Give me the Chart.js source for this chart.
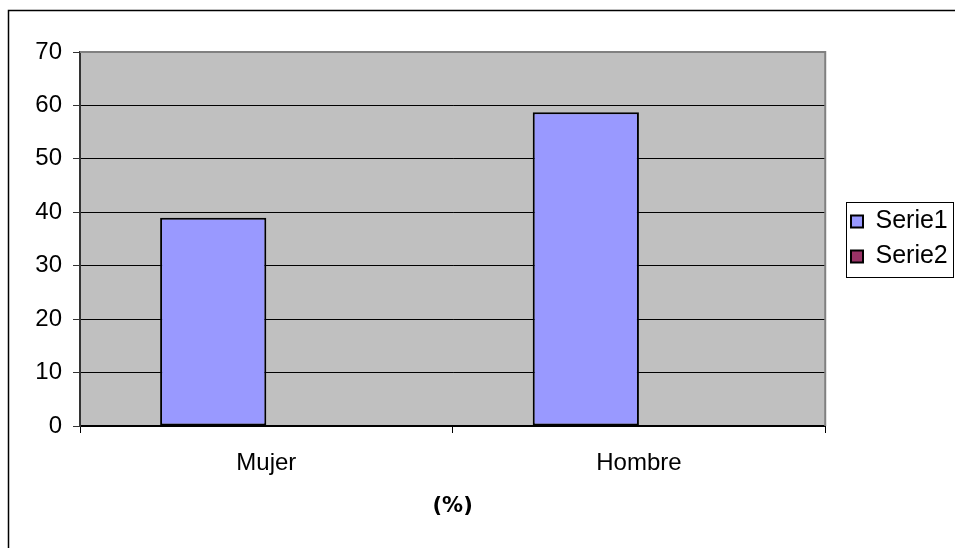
<!DOCTYPE html>
<html>
<head>
<meta charset="utf-8">
<script src="https://cdn.jsdelivr.net/npm/chart.js@4/dist/chart.umd.min.js"></script>
<style>
  html, body { margin: 0; padding: 0; background: #fff; }
  #wrap { width: 955px; height: 548px; position: relative; }
</style>
</head>
<body>
<div id="wrap"><canvas id="chart"></canvas></div>
<script>
const categories = ["Mujer", "Hombre"];
const serie1 = [39, 58.7];
const serie2 = [null, null];
const yMin = 0, yMax = 70, yStep = 10;
const axisTitle = "(%)";

const font = "'Liberation Sans', Arial, sans-serif";

// gray plot area, gray frame on top/right, outer border and legend box
const excelLook = {
  id: 'excelLook',
  afterLayout(chart) {
    // legend sits a bit away from the plot, like excel does it
    const lg = chart.legend;
    const dx = 851 - (lg.left + lg.options.labels.padding);
    lg.left += dx;
    lg.right += dx;
  },
  beforeDraw(chart) {
    const { ctx, chartArea: a } = chart;
    ctx.save();
    ctx.fillStyle = '#c0c0c0';
    ctx.fillRect(a.left, a.top, a.right - a.left, a.bottom - a.top);
    ctx.restore();
  },
  afterDraw(chart) {
    const { ctx, chartArea: a } = chart;
    ctx.save();
    ctx.strokeStyle = '#808080';
    ctx.lineWidth = 2;
    ctx.beginPath();
    ctx.moveTo(a.left, a.top);
    ctx.lineTo(a.right, a.top);
    ctx.lineTo(a.right, a.bottom);
    ctx.stroke();

    // outer chart border (only left/top visible in the shot)
    ctx.strokeStyle = '#000';
    ctx.lineWidth = 1.5;
    ctx.beginPath();
    ctx.moveTo(8.5, chart.height + 5);
    ctx.lineTo(8.5, 10.5);
    ctx.lineTo(chart.width + 5, 10.5);
    ctx.stroke();

    // legend frame
    const boxes = chart.legend.legendHitBoxes;
    if (boxes && boxes.length) {
      const l = Math.min(...boxes.map(b => b.left)) - 5;
      const t = Math.min(...boxes.map(b => b.top)) - 7;
      const b = Math.max(...boxes.map(b => b.top + b.height)) + 8;
      ctx.strokeStyle = '#000';
      ctx.lineWidth = 1;
      ctx.strokeRect(Math.round(l) + 0.5, Math.round(t) + 0.5, 953 - Math.round(l), Math.round(b - t));
    }
    ctx.restore();
  }
};

new Chart(document.getElementById('chart'), {
  type: 'bar',
  data: {
    labels: categories,
    datasets: [
      { label: 'Serie1', data: serie1, backgroundColor: '#9999ff', borderColor: '#000', borderWidth: 2, borderSkipped: false },
      { label: 'Serie2', data: serie2, backgroundColor: '#993366', borderColor: '#000', borderWidth: 2, borderSkipped: false }
    ]
  },
  options: {
    responsive: true,
    maintainAspectRatio: false,
    animation: false,
    categoryPercentage: 0.57,
    barPercentage: 1,
    layout: { padding: { top: 52, left: 0, right: 13, bottom: 26 } },
    plugins: {
      tooltip: { enabled: false },
      legend: {
        position: 'right',
        fullSize: false,
        labels: {
          color: '#000',
          font: { family: font, size: 25 },
          boxWidth: 12,
          boxHeight: 12,
          padding: 10
        }
      }
    },
    scales: {
      x: {
        grid: { offset: true, drawOnChartArea: false, tickLength: 7, color: '#000' },
        border: { color: '#000', width: 2 },
        ticks: { color: '#000', font: { family: font, size: 24 }, padding: 16 },
        title: {
          display: true,
          text: axisTitle,
          color: '#000',
          font: { family: "'DejaVu Sans', sans-serif", size: 21, weight: 'bold' },
          padding: { top: 0, bottom: 3 }
        }
      },
      y: {
        min: yMin,
        max: yMax,
        afterFit(scale) { scale.width = 80; },
        grid: {
          tickLength: 7,
          tickColor: '#333',
          color: c => c.tick.value === yMax ? 'rgba(0,0,0,0)' : '#000'
        },
        border: { color: '#333', width: 2 },
        ticks: { stepSize: yStep, color: '#000', font: { family: font, size: 24 }, padding: 11 }
      }
    }
  },
  plugins: [excelLook]
});
</script>
</body>
</html>
